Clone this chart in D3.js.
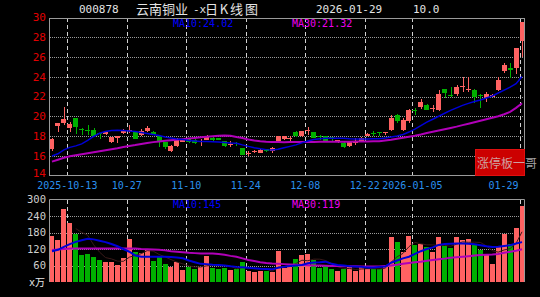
<!DOCTYPE html>
<html>
<head>
<meta charset="utf-8">
<script src="https://cdn.jsdelivr.net/npm/d3@7/dist/d3.min.js"></script>
<style>
html, body { margin: 0; padding: 0; background: #000; }
svg { display: block; }
text { font-family: "DejaVu Sans Mono", monospace; }
</style>
</head>
<body>
<svg id="chart" width="540" height="297"></svg>
<script>
// trading days shown (sep 30 .. jan 29)
var dates = [
  "2025-09-30","2025-10-09","2025-10-10",
  "2025-10-13","2025-10-14","2025-10-15","2025-10-16","2025-10-17",
  "2025-10-20","2025-10-21","2025-10-22","2025-10-23","2025-10-24",
  "2025-10-27","2025-10-28","2025-10-29","2025-10-30","2025-10-31",
  "2025-11-03","2025-11-04","2025-11-05","2025-11-06","2025-11-07",
  "2025-11-10","2025-11-11","2025-11-12","2025-11-13","2025-11-14",
  "2025-11-17","2025-11-18","2025-11-19","2025-11-20","2025-11-21",
  "2025-11-24","2025-11-25","2025-11-26","2025-11-27","2025-11-28",
  "2025-12-01","2025-12-02","2025-12-03","2025-12-04","2025-12-05",
  "2025-12-08","2025-12-09","2025-12-10","2025-12-11","2025-12-12",
  "2025-12-15","2025-12-16","2025-12-17","2025-12-18","2025-12-19",
  "2025-12-22","2025-12-23","2025-12-24","2025-12-25","2025-12-26",
  "2025-12-29","2025-12-30","2025-12-31",
  "2026-01-05","2026-01-06","2026-01-07","2026-01-08","2026-01-09",
  "2026-01-12","2026-01-13","2026-01-14","2026-01-15","2026-01-16",
  "2026-01-19","2026-01-20","2026-01-21","2026-01-22","2026-01-23",
  "2026-01-26","2026-01-27","2026-01-28","2026-01-29"
];

var open = [
  16.7,19.0,19.35,18.8,19.8,18.75,18.6,18.65,18.3,18.2,
  17.4,17.8,18.3,18.6,18.4,18.1,18.5,18.45,17.95,17.35,
  16.5,16.95,17.4,17.7,17.6,17.35,17.6,17.8,17.75,17.45,
  17.1,17.3,16.75,16.25,16.35,16.3,16.65,16.45,17.45,17.7,
  17.75,18.45,17.95,18.55,18.4,18.05,17.95,17.85,17.35,17.3,
  16.95,17.3,17.4,18.05,18.3,18.4,18.3,18.6,20.1,18.65,
  19.5,20.65,20.9,21.15,20.75,20.65,22.75,22.2,22.25,22.95,
  22.75,22.65,22.2,21.85,22.0,22.7,24.55,24.85,24.9,27.6
];
var high = [
  17.8,19.35,20.9,19.4,19.85,18.8,19.1,18.8,18.35,18.5,
  17.9,17.95,18.7,19.15,18.55,18.7,19.0,18.5,18.15,17.4,
  17.1,17.8,17.7,17.8,17.65,17.7,18.1,17.9,17.8,17.5,
  17.5,17.35,16.8,16.45,16.55,16.7,16.7,16.9,18.05,18.0,
  18.05,18.5,18.55,18.9,18.45,18.1,18.05,17.9,17.6,17.35,
  17.4,17.75,17.85,18.3,18.5,18.45,18.45,20.1,20.2,19.8,
  20.7,20.85,21.7,21.2,21.15,22.7,22.8,23.0,23.2,24.0,
  24.0,22.8,22.3,22.5,22.3,24.0,25.4,25.4,26.95,29.59
];
var low = [
  16.5,18.4,19.1,18.45,18.2,18.1,18.1,17.9,17.7,18.15,
  17.25,17.25,18.25,18.3,17.65,18.05,18.45,18.1,16.9,16.7,
  16.35,16.9,17.35,17.3,17.2,16.95,17.55,17.5,17.55,16.9,
  16.9,17.0,16.05,15.95,16.3,16.25,16.35,16.25,17.4,17.6,
  17.5,17.9,17.9,18.1,17.75,17.6,17.4,17.5,17.3,16.75,
  16.9,17.1,17.35,18.0,18.0,18.0,18.1,18.55,19.35,18.5,
  19.3,20.1,20.75,20.6,20.4,20.5,21.85,21.9,22.1,22.45,
  22.5,21.3,20.8,21.4,21.9,22.55,24.35,23.85,24.3,26.05
];
var close = [
  17.65,19.3,19.7,19.2,18.95,18.7,18.55,17.95,18.25,18.45,
  17.85,17.95,18.65,18.65,17.7,18.55,18.8,18.15,17.35,16.85,
  17.0,17.65,17.65,17.4,17.25,17.45,18.0,17.6,17.6,16.95,
  17.15,17.15,16.1,16.3,16.45,16.6,16.45,16.8,18.0,17.95,
  17.8,17.95,18.5,18.6,17.8,17.9,17.45,17.8,17.55,16.9,
  17.35,17.35,17.8,18.25,18.25,18.35,18.4,19.8,19.5,19.6,
  20.6,20.55,21.4,20.65,20.85,22.25,22.35,22.15,23.0,23.05,
  22.8,22.0,22.1,22.3,22.2,23.7,25.2,24.7,26.9,29.59
];
// volume in 万手
var volume = [
  168,152,265,213,173,98,102,90,80,74,
  74,62,86,155,108,104,118,77,94,65,
  53,74,44,56,47,53,94,52,47,52,
  44,46,74,41,37,41,41,37,112,50,
  53,83,98,102,80,52,58,47,41,47,
  53,40,56,47,47,47,56,162,146,110,
  168,134,137,126,110,162,131,122,162,152,
  155,134,116,100,65,128,174,140,195,276
];
// moving averages as drawn on the chart
var ma10 = [
  15.98,16.2,16.6,16.85,17.0,17.2,17.55,17.95,18.28,18.45,
  18.55,18.57,18.55,18.5,18.45,18.35,18.25,18.15,18.05,17.9,
  17.8,17.7,17.65,17.55,17.5,17.45,17.45,17.43,17.4,17.35,
  17.3,17.27,17.1,16.95,16.8,16.7,16.62,16.59,16.65,16.8,
  16.95,17.1,17.3,17.5,17.65,17.72,17.77,17.77,17.77,17.77,
  17.72,17.7,17.7,17.7,17.72,17.72,17.8,17.9,18.0,18.15,
  18.4,18.7,19.05,19.4,19.7,20.0,20.3,20.6,20.85,21.1,
  21.3,21.5,21.65,21.85,22.05,22.35,22.65,22.95,23.3,24.02
];
var ma30 = [
  15.4,15.6,15.8,15.95,16.05,16.15,16.25,16.35,16.45,16.55,
  16.65,16.75,16.88,16.98,17.08,17.2,17.3,17.38,17.45,17.52,
  17.58,17.62,17.68,17.74,17.8,17.87,17.93,17.98,18.02,18.04,
  18.02,17.9,17.8,17.65,17.55,17.48,17.43,17.4,17.38,17.37,
  17.38,17.38,17.39,17.4,17.4,17.41,17.42,17.42,17.43,17.43,
  17.43,17.44,17.45,17.45,17.46,17.48,17.55,17.62,17.72,17.82,
  17.92,18.02,18.15,18.3,18.42,18.55,18.68,18.82,18.95,19.1,
  19.25,19.4,19.55,19.7,19.85,20.0,20.2,20.45,20.85,21.32
];
var volMa10 = [
  112,117,128,138,146,152,157,155,150,145,
  138,130,120,110,96,92,92,92,92,92,
  91,89,86,78,72,66,65,63,62,60,
  57,55,54,52,50,48,47,46,52,55,
  58,60,62,68,71,72,74,66,62,60,
  57,56,55,53,53,55,56,70,78,86,
  92,102,112,120,126,135,138,139,140,140,
  139,137,134,130,127,128,131,134,140,145
];
var volMa30 = [
  116,118,120,122,122,122,122,122,122,122,
  122,122,122,122,122,120,119,118,117,115,
  112,110,108,106,105,104,104,104,102,99,
  95,92,86,80,76,72,69,67,66,65,
  64,63,62,61,60,60,59,58,58,57,
  57,57,56,56,56,56,58,60,63,66,
  69,72,74,77,80,83,85,88,90,92,
  94,96,98,99,100,102,106,110,114,119
];

var tickDates = ["2025-10-13","2025-10-27","2025-11-10","2025-11-24","2025-12-08","2025-12-22","2026-01-05","2026-01-29"];
var tickLabels = ["2025-10-13","10-27","11-10","11-24","12-08","12-22","2026-01-05","01-29"];
var priceTicks = [30,28,26,24,22,20,18,16,14];
var volTicks = [300,240,180,120,60];

var UP = "#ff6262", DOWN = "#00b000";
var BLUE = "#0000d8", MAGENTA = "#b000b8";

var svg = d3.select("#chart");
svg.append("rect").attr("width", 540).attr("height", 297).attr("fill", "#000");

var x = d3.scaleBand().domain(dates).range([49, 525]).paddingInner(0.16).paddingOuter(0.08);
var y = d3.scaleLinear().domain([14, 30]).range([175.5, 17.5]);
var yv = d3.scaleLinear().domain([0, 300]).range([282, 199.5]);
var bw = x.bandwidth();
function cx(d) { return x(d) + bw / 2; }

var rows = dates.map(function(d, i) {
  return {date: d, o: open[i], h: high[i], l: low[i], c: close[i], v: volume[i],
          m10: ma10[i], m30: ma30[i], vm10: volMa10[i], vm30: volMa30[i]};
});

// ---- grids ----
var grid = svg.append("g");
grid.selectAll("line.pg")
  .data(priceTicks.slice(1, -1))
  .enter().append("line")
  .attr("x1", 50).attr("x2", 524)
  .attr("y1", d => Math.round(y(d)) + 0.5).attr("y2", d => Math.round(y(d)) + 0.5)
  .attr("stroke", "#9a9a9a").attr("stroke-dasharray", "1,1");
grid.selectAll("line.vg")
  .data(volTicks.slice(1))
  .enter().append("line")
  .attr("x1", 50).attr("x2", 524)
  .attr("y1", d => Math.round(yv(d)) + 0.5).attr("y2", d => Math.round(yv(d)) + 0.5)
  .attr("stroke", "#9a9a9a").attr("stroke-dasharray", "1,1");

// dashed date lines in both panels
[[18, 175], [200, 282]].forEach(function(r) {
  grid.selectAll(null)
    .data(tickDates)
    .enter().append("line")
    .attr("x1", d => Math.round(x(d)) + 0.5).attr("x2", d => Math.round(x(d)) + 0.5)
    .attr("y1", r[0]).attr("y2", r[1])
    .attr("stroke", "#d0d0d0").attr("stroke-dasharray", "4,3");
});

// ---- candles ----
var candle = svg.append("g").attr("shape-rendering", "crispEdges");
candle.selectAll("line")
  .data(rows)
  .enter().append("line")
  .attr("x1", d => Math.round(cx(d.date)) + 0.5)
  .attr("x2", d => Math.round(cx(d.date)) + 0.5)
  .attr("y1", d => y(d.h)).attr("y2", d => y(d.l))
  .attr("stroke", d => d.c >= d.o ? UP : DOWN);
candle.selectAll("rect")
  .data(rows)
  .enter().append("rect")
  .attr("x", d => Math.round(x(d.date)))
  .attr("width", 5)
  .attr("y", d => y(Math.max(d.o, d.c)))
  .attr("height", d => Math.max(1, Math.abs(y(d.o) - y(d.c))))
  .attr("fill", d => d.c >= d.o ? UP : DOWN);

var priceLine = function(key) {
  return d3.line().x(d => cx(d.date)).y(d => y(d[key]));
};
svg.append("path").datum(rows).attr("d", priceLine("m30"))
  .attr("fill", "none").attr("stroke", MAGENTA).attr("stroke-width", 2);
svg.append("path").datum(rows).attr("d", priceLine("m10"))
  .attr("fill", "none").attr("stroke", BLUE).attr("stroke-width", 1.5);

// ---- volume ----
svg.append("g").attr("shape-rendering", "crispEdges")
  .selectAll("rect")
  .data(rows)
  .enter().append("rect")
  .attr("x", d => Math.round(x(d.date)))
  .attr("width", 5)
  .attr("y", d => yv(d.v))
  .attr("height", d => yv(0) - yv(d.v))
  .attr("fill", d => d.c >= d.o ? UP : DOWN);

// short volume average, darker line that shows over the bars
var vm5 = rows.slice(4).map(function(d, k) {
  return {date: d.date, v: d3.mean(volume.slice(k, k + 5))};
});
svg.append("path").datum(vm5)
  .attr("d", d3.line().x(d => cx(d.date)).y(d => yv(d.v)))
  .attr("fill", "none").attr("stroke", "#3a1a1a").attr("stroke-width", 1);
svg.append("path").datum(rows)
  .attr("d", d3.line().x(d => cx(d.date)).y(d => yv(d.vm30)))
  .attr("fill", "none").attr("stroke", MAGENTA).attr("stroke-width", 2);
svg.append("path").datum(rows)
  .attr("d", d3.line().x(d => cx(d.date)).y(d => yv(d.vm10)))
  .attr("fill", "none").attr("stroke", BLUE).attr("stroke-width", 2);

// ---- frames ----
svg.append("rect").attr("x", 49.5).attr("y", 18.5).attr("width", 475).attr("height", 157)
  .attr("fill", "none").attr("stroke", "#9a9a9a");
svg.append("path").attr("d", "M49.5,282V199.5H524.5V282")
  .attr("fill", "none").attr("stroke", "#9a9a9a");

// ---- axes text ----
svg.append("g").selectAll("text")
  .data(priceTicks)
  .enter().append("text")
  .attr("x", 46).attr("y", d => d == 14 ? y(d) - 2 : y(d))
  .attr("dy", "0.36em")
  .attr("text-anchor", "end")
  .attr("font-size", 11)
  .attr("fill", "#e00000")
  .text(d => d);

svg.append("g").selectAll("text")
  .data(volTicks)
  .enter().append("text")
  .attr("x", 46).attr("y", d => yv(d))
  .attr("dy", "0.36em")
  .attr("text-anchor", "end")
  .attr("font-size", 10.5)
  .attr("fill", "#cfcfcf")
  .text(d => d);
svg.append("text").attr("x", 29).attr("y", 286)
  .attr("font-size", 10).attr("fill", "#e8e8e8")
  .style("font-family", "'DejaVu Sans Mono','Noto Sans CJK SC'")
  .text("x万");

svg.append("g").selectAll("text")
  .data(tickDates)
  .enter().append("text")
  .attr("x", (d, i) => i == tickDates.length - 1 ? x(d) - 1 : x(d))
  .attr("y", 189)
  .attr("text-anchor", (d, i) => i == tickDates.length - 1 ? "end" : "middle")
  .attr("font-size", 10)
  .attr("fill", "#2a90ee")
  .text((d, i) => tickLabels[i]);

// ---- title and legends ----
svg.append("text").attr("x", 79).attr("y", 13).attr("font-size", 11).attr("fill", "#e4e4e4").text("000878");
svg.append("text").attr("x", 136).attr("y", 14).attr("font-size", 13).attr("fill", "#e4e4e4")
  .style("font-family", "'Noto Sans CJK SC'").text("云南铜业");
svg.append("text").attr("x", 193).attr("y", 13).attr("font-size", 11).attr("fill", "#e4e4e4").text("-x");
svg.append("text").attr("x", 205).attr("y", 14).attr("font-size", 13).attr("fill", "#e4e4e4")
  .attr("textLength", 53).attr("lengthAdjust", "spacing")
  .style("font-family", "'Noto Sans CJK SC'").text("日K线图");
svg.append("text").attr("x", 316).attr("y", 13).attr("font-size", 11).attr("fill", "#e4e4e4").text(dates[dates.length - 1]);
svg.append("text").attr("x", 413).attr("y", 13).attr("font-size", 11).attr("fill", "#e4e4e4").text("10.0");

svg.append("text").attr("x", 173).attr("y", 27).attr("font-size", 10).attr("fill", "#0000ff")
  .text("MA10:" + ma10[ma10.length - 1].toFixed(2));
svg.append("text").attr("x", 292).attr("y", 27).attr("font-size", 10).attr("fill", "#ee00ee")
  .text("MA30:" + ma30[ma30.length - 1].toFixed(2));
svg.append("text").attr("x", 173).attr("y", 207.5).attr("font-size", 10).attr("fill", "#0000ff")
  .text("MA10:" + volMa10[volMa10.length - 1]);
svg.append("text").attr("x", 292).attr("y", 207.5).attr("font-size", 10).attr("fill", "#ee00ee")
  .text("MA30:" + volMa30[volMa30.length - 1]);

// ---- watermark box ----
svg.append("rect").attr("x", 475.5).attr("y", 149.5).attr("width", 49).attr("height", 26)
  .attr("fill", "#cc0000").attr("stroke", "#e01010");
svg.append("text").attr("x", 477).attr("y", 168).attr("font-size", 12)
  .attr("fill", "#d0d0d0").attr("fill-opacity", 0.78)
  .style("font-family", "'Noto Sans CJK SC'")
  .text("涨停板一哥");
</script>
</body>
</html>
